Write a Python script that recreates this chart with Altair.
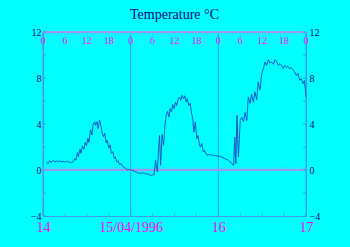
import altair as alt
import pandas as pd

# Time in hours since 14/04/1996 00:00, temperature in °C
hours = [0.9, 1.4, 1.8, 2.3, 2.8, 3.2, 3.7, 4.1, 4.6, 5.0, 5.5, 5.9, 6.4, 6.9, 7.3, 7.8, 8.2, 8.7, 9.0, 9.4,
         9.7, 10.1, 10.4, 10.8, 11.2, 11.5, 11.9, 12.3, 12.6, 13.0, 13.4, 13.7, 14.1, 14.4, 14.8, 15.1, 15.5, 15.9,
         16.2, 16.6, 16.9, 17.3, 17.6, 18.0, 18.4, 18.7, 19.1, 19.5, 19.8, 20.2, 20.6, 20.9, 21.4, 21.8, 22.3,
         22.7, 23.2, 23.6,
         24.0, 24.9, 25.8, 26.7, 27.2, 27.7, 28.1, 28.6, 29.0, 29.5, 29.9, 30.4, 30.8, 31.3, 31.6, 31.9, 32.2,
         32.6, 33.0, 33.4, 33.7, 34.1, 34.5, 34.8, 35.2, 35.5, 35.9, 36.3, 36.6, 37.0, 37.4, 37.7, 38.1, 38.5,
         38.8, 39.2, 39.5, 39.9, 40.3, 40.6, 41.0, 41.3, 41.7, 42.1, 42.4, 42.8, 43.1, 43.5, 43.9, 44.2, 44.6,
         44.9, 45.4, 45.8, 46.3, 46.7, 47.2, 47.6, 48.0,
         48.9, 49.8, 50.8, 51.7, 52.2, 52.5, 52.8, 53.1, 53.5, 54.0, 54.4, 54.9, 55.3, 55.8, 56.2, 56.7, 57.1,
         57.6, 58.0, 58.5, 58.9, 59.4, 59.9, 60.3, 60.8, 61.2, 61.7, 62.1, 62.6, 63.1, 63.5, 64.0, 64.4, 64.9,
         65.3, 65.8, 66.2, 66.7, 67.1, 67.6, 68.0, 68.5, 68.9, 69.4, 69.8, 70.3, 70.7, 71.2, 71.6, 72.0]
temps = [0.7, 0.55, 0.8, 0.65, 0.85, 0.7, 0.8, 0.68, 0.8, 0.7, 0.76, 0.68, 0.76, 0.68, 0.7, 0.65, 0.7, 0.99, 0.85, 1.5,
         1.15, 1.8, 1.45, 2.1, 1.8, 2.4, 2.1, 2.75, 2.4, 3.5, 3.05, 3.9, 4.2, 3.9, 4.2, 3.6, 4.35, 3.8,
         3.2, 2.9, 3.2, 2.35, 2.6, 1.9, 2.2, 1.45, 1.6, 1.0, 1.15, 0.7, 0.8, 0.5, 0.55, 0.3, 0.25,
         0.1, 0.0, 0.05,
         0.03, -0.1, -0.22, -0.3, -0.22, -0.33, -0.27, -0.39, -0.33, -0.51, -0.39, -0.45, 0.84, -0.17, 1.57, 3.0, 0.4,
         3.08, 2.15, 3.9, 4.75, 5.1, 4.6, 5.34, 5.04, 5.7, 5.34, 5.9, 5.6, 6.2, 6.35, 6.06, 6.5, 6.2,
         6.45, 5.9, 6.2, 5.6, 5.8, 5.05, 4.47, 3.3, 4.17, 2.73, 3.0, 2.3, 2.0, 2.3, 1.57, 1.7, 1.43,
         1.28, 1.36, 1.28, 1.33, 1.22, 1.28, 1.2, 1.22,
         1.13, 0.99, 0.84, 0.55, 0.4, 2.87, 0.55, 4.75, 1.13, 4.3, 4.6, 4.2, 5.0, 4.3, 6.35, 5.8, 6.6,
         5.9, 6.8, 6.1, 7.65, 6.95, 8.4, 8.8, 9.4, 9.1, 9.6, 9.3, 9.4, 9.2, 9.6, 9.4, 9.1, 9.25,
         9.1, 8.8, 9.1, 8.95, 9.0, 8.8, 8.9, 8.7, 8.5, 8.2, 8.4, 7.8, 7.95, 7.5, 7.8, 6.35]

day_hours = [0, 24, 48, 72]
day_labels = ["14", "15/04/1996", "16", "17"]
hour_ticks = [0, 6, 12, 18, 24, 30, 36, 42, 48, 54, 60, 66, 72]
hour_labels = ["0", "6", "12", "18", "0", "6", "12", "18", "0", "6", "12", "18", "0"]
minor_hours = list(range(0, 73))
y_ticks = [-4, 0, 4, 8, 12]
y_minor = [-4, -2, 0, 2, 4, 6, 8, 10, 12]

df = pd.DataFrame({"h": hours, "t": temps})
days_df = pd.DataFrame({"h": day_hours, "lab": day_labels})
top_df = pd.DataFrame({"h": hour_ticks, "lab": hour_labels})
minor_df = pd.DataFrame({"h": minor_hours})
six_df = pd.DataFrame({"h": hour_ticks})
ym_df = pd.DataFrame({"v": y_minor})

W, H = 263, 184
NAVY = "#000080"
MAG = "#ff00ff"
BLUE = "#3c9ae6"
LAV = "#a890f0"
SERIF = "Liberation Serif"

xs = alt.Scale(domain=[0, 72], nice=False, zero=False)
ys = alt.Scale(domain=[-4, 12], nice=False, zero=False)

label_expr = "datum.value == 0 ? '14' : datum.value == 24 ? '15/04/1996' : datum.value == 48 ? '16' : '17'"

xaxis = alt.Axis(
    values=day_hours, labelExpr=label_expr, title=None, grid=False, ticks=False,
    domainColor=BLUE, labelColor=MAG, labelFont=SERIF, labelFontSize=14,
    labelPadding=4, labelFlush=False, labelOverlap=False)

line = alt.Chart(df).mark_line(color="#1a56c8", strokeWidth=1).encode(
    x=alt.X("h:Q", scale=xs, axis=xaxis),
    y=alt.Y("t:Q", scale=ys, axis=alt.Axis(
        values=y_ticks, title=None, grid=False, ticks=False, domainColor=BLUE,
        labelColor=NAVY, labelFont=SERIF, labelFontSize=10, labelPadding=2,
        labelFlush=False, labelOverlap=False)),
)

right_ticks = alt.Chart(ym_df).mark_rule(color=BLUE, strokeWidth=1).encode(
    y=alt.Y("v:Q", scale=ys, axis=alt.Axis(
        orient="right", values=y_ticks, title=None, grid=False, ticks=False, domainColor=BLUE,
        labelColor=NAVY, labelFont=SERIF, labelFontSize=10, labelPadding=3,
        labelFlush=False, labelOverlap=False)),
    x=alt.value(W - 3), x2=alt.value(W),
)

left_ticks = alt.Chart(ym_df).mark_rule(color=BLUE, strokeWidth=1).encode(
    y=alt.Y("v:Q", scale=ys, axis=None),
    x=alt.value(0), x2=alt.value(3),
)

day_grid = alt.Chart(days_df).mark_rule(color=BLUE, strokeWidth=1).encode(
    x=alt.X("h:Q", scale=xs, axis=xaxis), y=alt.value(0), y2=alt.value(H),
)

top_line = alt.Chart(days_df).mark_rule(color=LAV, strokeWidth=1).encode(
    x=alt.value(0), x2=alt.value(W), y=alt.datum(12, scale=ys, axis=None),
)
zero_line = alt.Chart(days_df).mark_rule(color=LAV, strokeWidth=1).encode(
    x=alt.value(0), x2=alt.value(W), y=alt.datum(0, scale=ys, axis=None),
)

top_minor = alt.Chart(minor_df).mark_tick(color=LAV, orient="vertical", size=3, thickness=1, yOffset=1.5).encode(
    x=alt.X("h:Q", scale=xs, axis=xaxis), y=alt.datum(12, scale=ys, axis=None),
)
zero_minor = alt.Chart(minor_df).mark_tick(color=LAV, orient="vertical", size=3, thickness=1, yOffset=-1.5).encode(
    x=alt.X("h:Q", scale=xs, axis=xaxis), y=alt.datum(0, scale=ys, axis=None),
)
bottom_six = alt.Chart(six_df).mark_tick(color=BLUE, orient="vertical", size=3, thickness=1, yOffset=-1.5).encode(
    x=alt.X("h:Q", scale=xs, axis=xaxis), y=alt.datum(-4, scale=ys, axis=None),
)

top_labels = alt.Chart(top_df).mark_text(color=MAG, font=SERIF, fontSize=10, baseline="middle", align="center").encode(
    x=alt.X("h:Q", scale=xs, axis=xaxis), y=alt.value(9), text="lab:N",
)

title = alt.Chart(pd.DataFrame({"t": ["Temperature °C"]})).mark_text(
    color=NAVY, font=SERIF, fontSize=14, baseline="alphabetic", align="center").encode(
    x=alt.value(W / 2), y=alt.value(-13), text="t:N",
)

chart = alt.layer(
    day_grid, top_line, zero_line, top_minor, zero_minor, bottom_six,
    left_ticks, line, right_ticks, top_labels, title,
).resolve_axis(y="independent").properties(
    width=W, height=H,
    background="#00ffff",
    padding={"left": 43, "top": 32, "right": 44, "bottom": 31},
    autosize=alt.AutoSizeParams(type="none"),
).configure_view(stroke=None)

chart.save("out.html", embed_options={"renderer": "svg", "actions": False})
